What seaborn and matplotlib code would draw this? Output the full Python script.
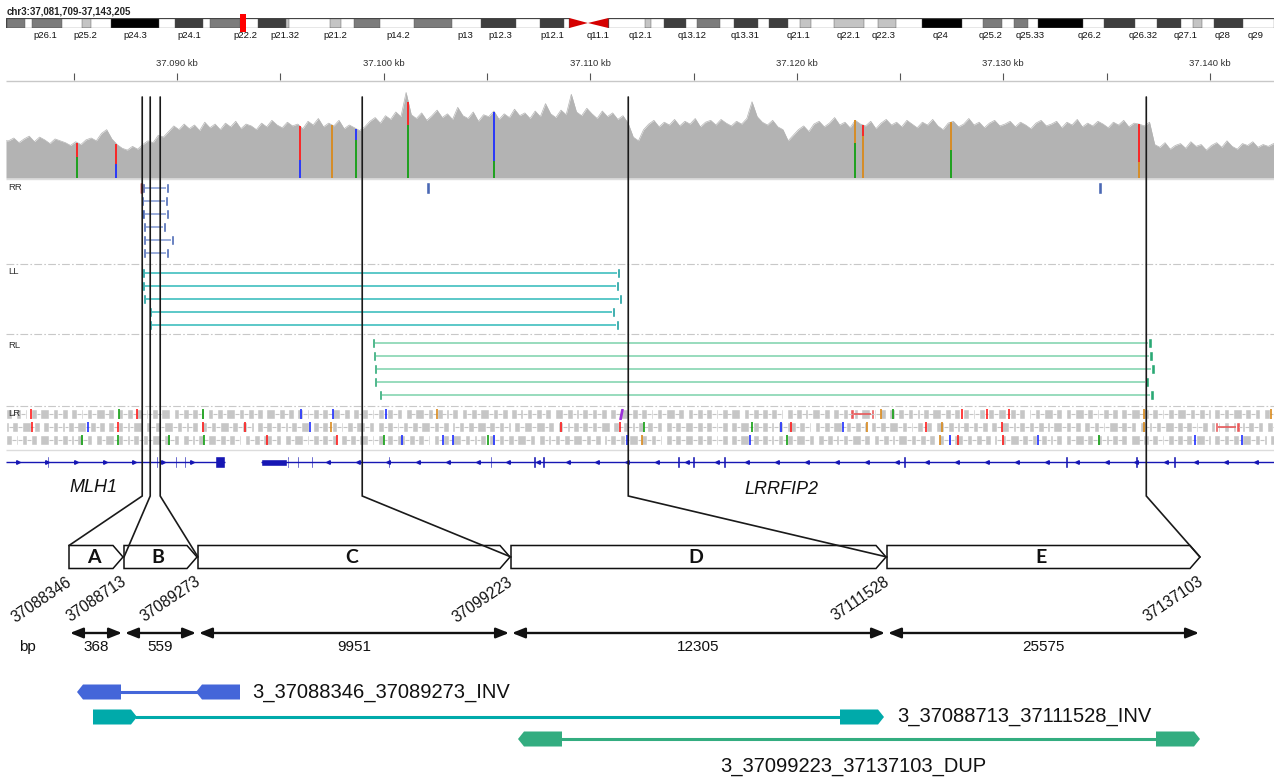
import numpy as np
import pandas as pd
import matplotlib
matplotlib.use("Agg")
import matplotlib.pyplot as plt
from matplotlib.patches import Polygon, Rectangle
import seaborn as sns

sns.set_theme(style="white")
plt.rcParams["font.family"] = ["Liberation Sans", "DejaVu Sans"]

# ---------------- data ----------------
region_start, region_end = 37081709, 37143205
chrom_label = "chr3:37,081,709-37,143,205"

# chr3 ideogram, Mb
chr_len = 198.3
cen_p, cen_mid, cen_q = 88.1, 91.0, 94.2
band_start = [0.2, 4.1, 11.9, 16.4, 26.4, 31.9, 39.4, 43.8, 50.7, 54.4, 63.8, 74.3, 83.5,
              99.9, 102.9, 108.1, 113.9, 119.3, 124.2, 129.5, 136.4, 143.3, 152.8, 157.7,
              161.4, 171.7, 180.0, 185.6, 188.9]
band_end = [2.9, 8.8, 13.3, 23.9, 30.8, 36.6, 43.8, 44.3, 52.4, 58.5, 69.8, 79.8, 87.3,
            100.9, 106.4, 111.7, 117.6, 122.3, 125.9, 134.2, 139.2, 149.5, 155.8, 159.8,
            168.4, 176.6, 183.8, 187.0, 193.5]
band_stain = [50, 50, 25, 100, 75, 50, 75, 25, 25, 50, 50, 75, 75,
              25, 75, 50, 75, 75, 25, 25, 25, 100, 50, 50,
              100, 75, 75, 25, 75]
band_names = ["p26.1", "p25.2", "p24.3", "p24.1", "p22.2", "p21.32", "p21.2", "p14.2", "p13",
              "p12.3", "p12.1", "q11.1", "q12.1", "q13.12", "q13.31", "q21.1", "q22.1", "q22.3",
              "q24", "q25.2", "q25.33", "q26.2", "q26.32", "q27.1", "q28", "q29"]
band_name_pos = [6.1, 12.4, 20.2, 28.6, 37.4, 43.6, 51.5, 61.3, 71.9, 77.3, 85.4, 92.6, 99.2,
                 107.3, 115.6, 123.9, 131.7, 137.2, 146.1, 153.9, 160.2, 169.5, 177.8, 184.4,
                 190.2, 195.4]

# read depth in 250 bp bins across the region
coverage = [40, 43, 38, 42, 45, 39, 44, 41, 37, 42, 40, 38, 35, 39, 36, 41, 43, 40, 48, 52,
            42, 36, 32, 30, 34, 31, 36,
            40, 38, 46, 44,
            50, 56, 52, 58, 53, 57, 51, 60, 54, 58, 52, 59, 55, 61, 53, 58, 56, 52, 59, 55,
            62, 57, 54, 60, 56, 58, 53, 61, 57, 64, 55, 59, 56, 62, 53, 57, 54, 51, 55,
            61, 65, 59, 67, 63, 71, 66, 92, 68, 64, 70, 62, 67, 73, 65, 69, 63, 76, 67, 64,
            71, 61, 68, 66, 72, 63, 69, 65, 74, 67, 70, 64, 72, 66, 80, 69, 65, 73, 68, 90,
            71, 67, 75, 69, 64, 72, 66, 70, 63, 67, 59,
            44, 40, 52,
            58, 62, 55, 60, 57, 63, 56, 61, 58, 64, 55, 60, 62, 57, 63, 59, 56, 61, 58, 64,
            82, 66, 60, 57, 62, 55, 52, 40, 46,
            52, 56, 50, 58, 61, 55, 59, 65, 57, 60, 54, 62, 58, 56, 61, 53, 59, 63, 57, 60,
            55, 62, 58, 54, 60, 57, 63, 56, 52, 59, 61, 55, 58, 64, 57, 60, 54, 59, 62, 56,
            58, 61, 55, 60, 57, 53, 59, 62, 56, 58, 61, 54, 60, 57, 63, 55, 59, 56, 61, 58,
            54, 60, 57, 62, 55, 59, 58, 56, 60,
            36, 33, 38, 31, 35, 37, 32, 39, 34, 36, 30, 35, 38, 33, 40, 34, 31, 37, 35, 39,
            33, 36, 34, 37]

# mismatching alleles in the coverage track
allele_pos = [37085157, 37087046, 37095956, 37097506, 37098668, 37101186, 37105351,
              37122832, 37123219, 37127481, 37136585]
allele_low = ["A", "C", "C", "G", "A", "A", "A", "A", "G", "A", "G"]
allele_high = ["T", "T", "T", "G", "C", "T", "C", "G", "T", "G", "T"]
allele_frac = [0.58, 0.40, 0.35, 1.0, 0.78, 0.70, 0.25, 0.60, 0.80, 0.50, 0.30]
base_col = {"A": "#12a012", "C": "#1f2fff", "G": "#d98a1c", "T": "#ff1c1c"}

read_len = 150
rr_left = [37088300, 37088260, 37088270, 37088330, 37088340, 37088340]
rr_right = [37089470, 37089420, 37089470, 37089300, 37089700, 37089460]
rr_single = [37102059, 37134604]
ll_left = [37088285, 37088285, 37088348, 37088644, 37088644]
ll_right = [37111310, 37111261, 37111406, 37111068, 37111237]
rl_left = [37099444, 37099478, 37099527, 37099527, 37099770]
rl_right = [37137030, 37137078, 37137175, 37136884, 37137127]

# LR reads, one char per 150 bp: '#' read, '-' mate link, '.' empty
lr_rows = [
    "##-##-#.##-###-##-##.##-#-##-###-##.##-##-"
    "##-#-##-###.##-##-##-#.##-##-###-##-##-##."
    "###-##-##.##-#-##-##-###-##.##-##-#-##-##-"
    "##.##-###-##-##-#-##.##-##-###-##-##.##-#-"
    "##-##-##.###-##-#-##-##-##.##-###-##-##-#-"
    "##-###-##.##-##-##-#-##-###.##-##-##-##-#."
    "##-##-#-###-##.##-##-##-###-#-##.##-##-##-"
    "#-##-###-##-##.##-#-##-##-###-##-##.#-##-#"
    "##-##.##-###-##-#-##-##.##-###-##-##-#-##-"
    "###-##-##-#.##-##-###-##-##.##-#-##-##-##-",
    "#-##-###-##.##-##-#-##-###-##-##.##-##-#-#"
    "##.##-##-###-##-#-##.##-##-###-##-##-#.##-"
    "##-##-#-##-###.##-##-##-#-##-###-##.##-##-"
    "#-##-##-###-##-##.#-##-##-###-##-##-#.##-#"
    "##-###-##.##-#-##-##-##-###.##-##-#-##-##-"
    "##.##-##-###-##-##-#-##.##-###-##-##-#-##-"
    "###-##-#.##-##-###-##-##-#.##-##-###-##-#-"
    "##-##.###-##-#-##-##-##.##-###-#-##-##-##-"
    "#-###-##-##.##-##-#-###-##-##.##-#-##-###-"
    "##-##-#-##.###-##-##-#-##-##.##-###-##-##-",
    "##-#-##-##.###-##-##-#-##-##.##-###-##-#-#"
    "#-##-###-##-##.##-#-##-###-##-##-#.##-##-#"
    "##-##.##-###-#-##-##-##.##-##-###-#-##-##-"
    "###-##-##-#.##-##-###-##-#-##.##-##-##-###"
    "-##.##-#-##-##-###-##-##.#-##-##-###-##-##"
    "-#.##-##-###-##-##-#-##.##-###-##-##-#-##-"
    "##-###-##.##-##-#-##-###-##.##-##-#-###-##"
    "-##-##.##-#-###-##-##-##.#-##-###-##-##-##"
    "-#-##.##-###-##-##-#-##-##.###-##-##-#-##-"
    "##-##-###-#.##-##-##-###-##-#.##-##-##-##-",
]
lr_mm_pos = [
    [37082929, 37087191, 37088063, 37091260, 37096005, 37097555, 37100122, 37102592,
     37124095, 37124676, 37128018, 37129229, 37130294, 37136832, 37142983],
    [37082978, 37085690, 37087143, 37091260, 37093294, 37096441, 37097458, 37108597,
     37111455, 37112617, 37117848, 37119252, 37119737, 37122255, 37123418, 37126275,
     37127050, 37129956, 37136832],
    [37085399, 37087143, 37089613, 37091308, 37094360, 37097749, 37100025, 37100897,
     37102883, 37103367, 37105062, 37105353, 37111794, 37112520, 37117751, 37119543,
     37126953, 37127437, 37127825, 37130004, 37131700, 37134654, 37139303, 37141579],
]
lr_mm_base = [
    ["T", "A", "T", "A", "C", "C", "C", "G", "G", "A", "T", "T", "T", "G", "G"],
    ["T", "C", "T", "T", "T", "C", "G", "T", "T", "A", "A", "C", "T", "C", "G", "T",
     "G", "T", "G"],
    ["A", "A", "A", "A", "T", "T", "A", "C", "C", "C", "A", "C", "C", "G", "C", "A",
     "G", "C", "T", "T", "C", "A", "C", "C"],
]
lr_red_pairs = [(0, 37122749, 37123573), (1, 37140416, 37141288)]
lr_insertion = (0, 37111503)

mlh1_end = 37092300
lrrfip2_start = 37094073
exon_pos = [37083753, 37089032, 37089952, 37090388, 37095380, 37095865, 37096543,
            37100272, 37105211, 37107294, 37107730, 37114268, 37114994, 37116496,
            37125213, 37133058, 37136448, 37138288]
last_exon = (37091850, 37092300)
utr_block = (37094073, 37095330)

seg_names = ["A", "B", "C", "D", "E"]
seg_bp = [368, 559, 9951, 12305, 25575]
breakpoints = [37088346, 37088713, 37089273, 37099223, 37111528, 37137103]
# where the breakpoint guide lines sit over the tracks in the figure
guide_bp = [37088305, 37088692, 37089176, 37098958, 37111840, 37136924]
sv_names = ["3_37088346_37089273_INV", "3_37088713_37111528_INV", "3_37099223_37137103_DUP"]
sv_colors = ["#4466d9", "#00aaaa", "#33ad80"]

# ---------------- layout ----------------
W, H = 1274, 780
fig = plt.figure(figsize=(W / 100, H / 100), dpi=100)
fig.patch.set_facecolor("white")


def px_axes(x0, y0, x1, y1):
    return fig.add_axes([x0 / W, 1 - y1 / H, (x1 - x0) / W, (y1 - y0) / H])


ax_trk = px_axes(6, 0, 1276, 780)
ax_trk.set_xlim(region_start, region_end)
ax_trk.set_ylim(780, 0)
ax_cov = px_axes(6, 85, 1276, 178)
ax_ideo = px_axes(6, 18, 1274, 28)
ax_dia = px_axes(0, 0, 1274, 780)
ax_dia.set_xlim(0, W)
ax_dia.set_ylim(H, 0)
for a in (ax_trk, ax_cov, ax_ideo, ax_dia):
    a.axis("off")

small = dict(fontsize=6.8, color="#303030")

# ideogram
shade = {25: "#c4c4c4", 50: "#7c7c7c", 75: "#3e3e3e", 100: "#000000"}
ax_ideo.set_xlim(0, chr_len)
ax_ideo.set_ylim(0, 1)
for s, e, st in zip(band_start, band_end, band_stain):
    ax_ideo.add_patch(Rectangle((s, 0), e - s, 1, fc=shade[st], ec="#555555", lw=0.3))
ax_ideo.add_patch(Rectangle((0, 0), cen_p, 1, fc="none", ec="#444444", lw=0.9))
ax_ideo.add_patch(Rectangle((cen_q, 0), chr_len - cen_q, 1, fc="none", ec="#444444", lw=0.9))
ax_ideo.add_patch(Polygon([(cen_p, 0), (cen_p, 1), (cen_mid, 0.5)], fc="#d50000", ec="none"))
ax_ideo.add_patch(Polygon([(cen_q, 0), (cen_q, 1), (cen_mid, 0.5)], fc="#d50000", ec="none"))
mid_mb = (region_start + region_end) / 2e6
ax_ideo.add_patch(Rectangle((mid_mb - 0.45, -0.4), 0.9, 1.8, fc="#ff0000", ec="none", clip_on=False))
for name, pos in zip(band_names, band_name_pos):
    ax_ideo.text(pos, -0.72, name, ha="center", va="center", fontsize=6.8, color="#111111")
ax_dia.text(7, 11, chrom_label, ha="left", va="center", fontsize=7, fontweight="bold", color="#222222")

# ruler
ticks = np.arange(37085000, region_end, 5000)
ax_trk.vlines(ticks, 73, 80, color="#555555", lw=0.8)
for t in ticks[1::2]:
    ax_trk.text(t, 64, f"{t / 1e6:.3f} kb", ha="center", va="center", **small)
ax_trk.hlines(81, region_start, region_end, color="#c8c8c8", lw=1.0)

# coverage
edges = np.linspace(region_start, region_end, len(coverage) + 1)
centers = (edges[:-1] + edges[1:]) / 2
cov_df = pd.DataFrame({"pos": np.r_[region_start, centers, region_end],
                       "depth": [coverage[0]] + coverage + [coverage[-1]]})
sns.lineplot(data=cov_df, x="pos", y="depth", color="#b3b3b3", lw=0.5, ax=ax_cov)
ax_cov.fill_between(cov_df["pos"], 0, cov_df["depth"], color="#b3b3b3", lw=0)
ax_cov.set_xlim(region_start, region_end)
ax_cov.set_ylim(0, 100)
ax_cov.axis("off")
for p, lo, hi, f in zip(allele_pos, allele_low, allele_high, allele_frac):
    d = np.interp(p, cov_df["pos"], cov_df["depth"])
    ax_cov.vlines(p, 0, d * f, color=base_col[lo], lw=1.3)
    if f < 1:
        ax_cov.vlines(p, d * f, d, color=base_col[hi], lw=1.3)
ax_trk.hlines(178.5, region_start, region_end, color="#dddddd", lw=1.0)

# track separators and names
dashdot = (0, (7, 2, 1.5, 2))
ax_trk.hlines([264, 334, 405.5], region_start, region_end, color="#c8c8c8", lw=0.8, linestyles=[dashdot])
ax_trk.hlines(450, region_start, region_end, color="#dcdcdc", lw=1.0)
for lab, y in [("RR", 187), ("LL", 272), ("RL", 346), ("LR", 413)]:
    ax_dia.text(8, y, lab, ha="left", va="center", **small)


def draw_pairs(lefts, rights, y0, link_col, end_col):
    for i, (l, r) in enumerate(zip(lefts, rights)):
        y = y0 + 13 * i
        ax_trk.hlines(y, l + read_len, r, color=link_col, lw=1.2)
        ax_trk.broken_barh([(l, read_len), (r, read_len)], (y - 5, 10), facecolors=end_col)


draw_pairs(rr_left, rr_right, 188, "#8aa0d6", "#4a68b4")
ax_trk.vlines(np.array(rr_left[:3]), 183, 193, color="#c04040", lw=1.0)
ax_trk.broken_barh([(p, 180) for p in rr_single], (182, 12), facecolors="#4a68b4")
draw_pairs(ll_left, ll_right, 273, "#3fbfbf", "#1a9e9e")
draw_pairs(rl_left, rl_right, 343, "#86d6b2", "#2aa874")

# LR group: runs of '#' become one grey block
for r, row in enumerate(lr_rows):
    y = 414 + 13 * r
    blocks, links = [], []
    i = 0
    while i < len(row):
        x = region_start + i * read_len
        if row[i] == "#":
            j = i
            while j < len(row) and row[j] == "#":
                j += 1
            blocks.append((x + 12, (j - i) * read_len - 24))
            i = j
            continue
        if row[i] == "-":
            links.append(x)
        i += 1
    links = np.array(links)
    ax_trk.hlines(np.full(len(links), y), links - 15, links + read_len + 15, color="#c4c4c4", lw=0.8)
    ax_trk.broken_barh(blocks, (y - 5, 10), facecolors="#c6c6c6")
    ax_trk.vlines(lr_mm_pos[r], y - 5, y + 5, colors=[base_col[b] for b in lr_mm_base[r]], lw=1.2)
for r, a, b in lr_red_pairs:
    y = 414 + 13 * r
    ax_trk.hlines(y, a, b, color="#e8595a", lw=1.2)
    ax_trk.broken_barh([(a - 150, 150), (b, 150)], (y - 5, 10), facecolors="#e8595a")
ax_trk.plot([lr_insertion[1]], [414 + 13 * lr_insertion[0]], marker="$I$", ms=7, color="#9b30d9")

# genes
gene_col = "#1717b4"
ax_trk.hlines(462, region_start, mlh1_end, color=gene_col, lw=1.0)
ax_trk.hlines(462, lrrfip2_start, region_end, color=gene_col, lw=1.0)
chev_f = np.arange(37082300, 37091700, 1400)
chev_r = np.arange(37097300, 37143000, 1450)
ax_trk.plot(chev_f, np.full(len(chev_f), 462), ls="none", marker=">", ms=2.6, color=gene_col)
ax_trk.plot(chev_r, np.full(len(chev_r), 462), ls="none", marker="<", ms=2.6, color=gene_col)
ax_trk.broken_barh([(p - 55, 110) for p in exon_pos], (456, 12), facecolors=gene_col)
ax_trk.broken_barh([(last_exon[0], last_exon[1] - last_exon[0])], (456, 12), facecolors=gene_col)
ax_trk.broken_barh([(utr_block[0], utr_block[1] - utr_block[0])], (458.5, 7), facecolors=gene_col)
ax_trk.text(37085932, 487, "MLH1", ha="center", va="center", fontsize=13, style="italic", color="#111111")
ax_trk.text(37119252, 489, "LRRFIP2", ha="center", va="center", fontsize=13, style="italic", color="#111111")

# ---------------- schematic ----------------
seg_edges = [69, 123, 197, 510, 886, 1200]
box_top, box_bot, tip = 545.5, 568.5, 10


def bp_px(bp):
    d = ax_trk.transData.transform((bp, 0))
    return ax_dia.transData.inverted().transform(d)[0]


for i, name in enumerate(seg_names):
    x0 = seg_edges[i] + (1 if i else 0)
    x1 = seg_edges[i + 1]
    ymid = (box_top + box_bot) / 2
    ax_dia.add_patch(Polygon([(x0, box_top), (x1 - tip, box_top), (x1, ymid), (x1 - tip, box_bot), (x0, box_bot)],
                             closed=True, fc="white", ec="#111111", lw=1.1, joinstyle="miter", zorder=2))
    ax_dia.text((x0 + x1 - 5) / 2, ymid + 0.5, name, ha="center", va="center", fontsize=14,
                fontweight="bold", family=["Lato", "DejaVu Sans"], color="#111111", zorder=3)
    ax_dia.annotate("", xy=(x0 + 1, 633), xytext=(x1 - 1, 633),
                    arrowprops=dict(arrowstyle="<|-|>,head_length=0.55,head_width=0.22", color="#111111",
                                    lw=1.7, shrinkA=0, shrinkB=0, mutation_scale=14))
    ax_dia.text((x0 + x1) / 2, 647, str(seg_bp[i]), ha="center", va="center", fontsize=11, color="#111111")
ax_dia.text(27, 647, "bp", ha="center", va="center", fontsize=11, color="#111111")

for i, (bp, gbp) in enumerate(zip(breakpoints, guide_bp)):
    x = bp_px(gbp)
    tx = seg_edges[i] + (1 if 0 < i < 5 else 0)
    ty = box_top if i == 0 else (box_top + box_bot) / 2
    ax_dia.plot([x, x, tx], [97, 496, ty], color="#1a1a1a", lw=1.2, solid_joinstyle="miter", zorder=5)
    ax_dia.text(seg_edges[i] + 4, 584, str(bp), rotation=34, rotation_mode="anchor",
                ha="right", va="baseline", fontsize=11.2, color="#111111")

# SV calls
sv_left = [77, 93, 518]
sv_right = [240, 884, 1200]
sv_y = [692, 717, 739]
sv_point = [("left", "left"), ("right", "right"), ("left", "right")]
sv_label_xy = [(252, 692), (897, 717), (720, 766)]
blk, bh, btip = 44, 15, 6


def sv_block(x0, x1, yc, point, col):
    t, b = yc - bh / 2, yc + bh / 2
    if point == "right":
        pts = [(x0, t), (x1 - btip, t), (x1, yc), (x1 - btip, b), (x0, b)]
    else:
        pts = [(x0 + btip, t), (x1, t), (x1, b), (x0 + btip, b), (x0, yc)]
    ax_dia.add_patch(Polygon(pts, closed=True, fc=col, ec="none"))


for name, col, l, r, y, pt, (lx, ly) in zip(sv_names, sv_colors, sv_left, sv_right, sv_y, sv_point, sv_label_xy):
    ax_dia.hlines(y, l + blk - 2, r - blk + 2, color=col, lw=2.2)
    sv_block(l, l + blk, y, pt[0], col)
    sv_block(r - blk, r, y, pt[1], col)
    ax_dia.text(lx, ly, name, ha="left", va="center", fontsize=14.5, color="#111111")

fig.savefig("out.png", dpi=100, facecolor="white")
